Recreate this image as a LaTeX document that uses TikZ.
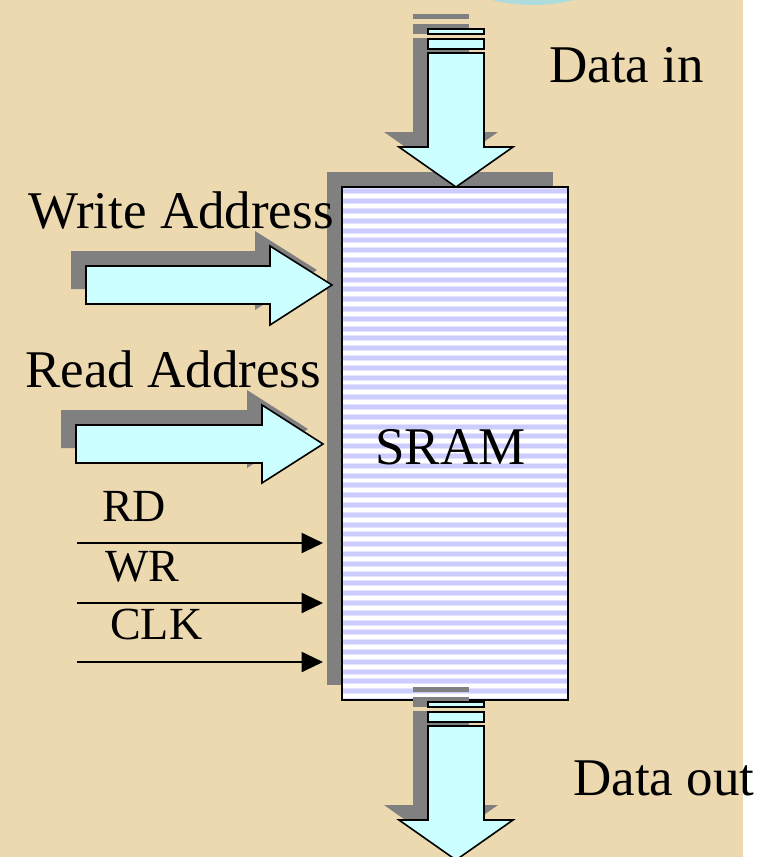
\documentclass[tikz,border=0pt]{standalone}
\usepackage{fontspec}
\setmainfont{Liberation Serif}
\usetikzlibrary{arrows.meta,calc}

\definecolor{parchment}{HTML}{EDD9B0}
\definecolor{busfill}{HTML}{CCFFFF}
\definecolor{shadowgray}{HTML}{808080}
\definecolor{stripeblue}{HTML}{CCCCFF}
\definecolor{stripeedge}{HTML}{E4E4FF}
\definecolor{bubble}{HTML}{AEDCDC}

\begin{document}
\begin{tikzpicture}[x=0.75pt, y=-0.75pt,
    bus/.style={draw=black, line width=1.2pt, fill=busfill, line join=miter},
    busshadow/.style={fill=shadowgray},
    bigtext/.style={font=\fontsize{39.75}{48}\selectfont, inner sep=0pt, anchor=base west},
    sigtext/.style={font=\fontsize{34.5}{42}\selectfont, inner sep=0pt, anchor=base west},
    signal/.style={line width=1.5pt, shorten >=3pt, -{Triangle[length=16pt,width=15pt]}},
    srambox/.style={draw=black, line width=1.2pt, fill=white, inner sep=0pt, outer sep=0pt,
        minimum width=169.5pt, minimum height=384.75pt,
        path picture={\foreach \i in {0,...,52}
            {\fill[stripeedge] ($(path picture bounding box.north west)+(0,1.3+\i*9.8)$) rectangle ++(230,6);
             \fill[stripeblue] ($(path picture bounding box.north west)+(0,2.3+\i*9.8)$) rectangle ++(230,4);}}},
    sramshadow/.style={fill=shadowgray, inner sep=0pt, outer sep=0pt,
        minimum width=169.5pt, minimum height=384.75pt}]

    \useasboundingbox (0,0) rectangle (778,857);
    \clip (0,0) rectangle (778,857);

    % Background
    \fill[parchment] (0,0) rectangle (743,857);
    \fill[white] (743,0) rectangle (778,857);
    \fill[bubble] (533,-40) ellipse [x radius=90, y radius=45];

    % The memory block and its shadow
    \node[sramshadow] (sramshadow) at (440,428.5) {};
    \node[srambox] (sram) at (455,443.5) {};
    \node[bigtext] (sramlabel) at (375,464) {SRAM};

    % Data in bus (shadow first)
    \fill[busshadow] (428-15,29-15) rectangle (484-15,34-15);
    \fill[busshadow] (428-15,39-15) rectangle (484-15,49-15);
    \fill[busshadow] (428-15,53-15) -- (484-15,53-15) -- (484-15,147-15) -- (513-15,147-15)
        -- (456-15,187-15) -- (399-15,147-15) -- (428-15,147-15) -- cycle;
    \draw[bus] (428,29) rectangle (484,34);
    \draw[bus] (428,39) rectangle (484,49);
    \draw[bus] (428,53) -- (484,53) -- (484,147) -- (513,147)
        -- (456,187) -- (399,147) -- (428,147) -- cycle;

    % Data out bus
    \fill[busshadow] (428-15,29-15+673) rectangle (484-15,34-15+673);
    \fill[busshadow] (428-15,39-15+673) rectangle (484-15,49-15+673);
    \fill[busshadow] (428-15,53-15+673) -- (484-15,53-15+673) -- (484-15,147-15+673) -- (513-15,147-15+673)
        -- (456-15,187-15+673) -- (399-15,147-15+673) -- (428-15,147-15+673) -- cycle;
    \draw[bus] (428,29+673) rectangle (484,34+673);
    \draw[bus] (428,39+673) rectangle (484,49+673);
    \draw[bus] (428,53+673) -- (484,53+673) -- (484,147+673) -- (513,147+673)
        -- (456,187+673) -- (399,147+673) -- (428,147+673) -- cycle;

    % Write address bus
    \fill[busshadow] (86-15,266-15) -- (270-15,266-15) -- (270-15,246-15) -- (332-15,285-15)
        -- (270-15,325-15) -- (270-15,304-15) -- (86-15,304-15) -- cycle;
    \draw[bus] (86,266) -- (270,266) -- (270,246) -- (332,285)
        -- (270,325) -- (270,304) -- (86,304) -- cycle;

    % Read address bus
    \fill[busshadow] (76-15,425-15) -- (262-15,425-15) -- (262-15,405-15) -- (323-15,444-15)
        -- (262-15,483-15) -- (262-15,463-15) -- (76-15,463-15) -- cycle;
    \draw[bus] (76,425) -- (262,425) -- (262,405) -- (323,444)
        -- (262,483) -- (262,463) -- (76,463) -- cycle;

    % Control lines
    \coordinate (rdin) at (77,543);
    \coordinate (wrin) at (77,603);
    \coordinate (clkin) at (77,662);
    \draw[signal] (rdin) -- (rdin -| sramshadow.west);
    \draw[signal] (wrin) -- (wrin -| sramshadow.west);
    \draw[signal] (clkin) -- (clkin -| sramshadow.west);

    % Labels
    \node[bigtext] (datain) at (549,82) {Data in};
    \node[bigtext] (writeaddr) at (28,228) {Write Address};
    \node[bigtext] (readaddr) at (25,387) {Read Address};
    \node[sigtext] (rdlabel) at (102,521) {RD};
    \node[sigtext] (wrlabel) at (105,581) {WR};
    \node[sigtext] (clklabel) at (110,639) {CLK};
    \node[bigtext] (dataout) at (573,795) {Data out};
\end{tikzpicture}
\end{document}
